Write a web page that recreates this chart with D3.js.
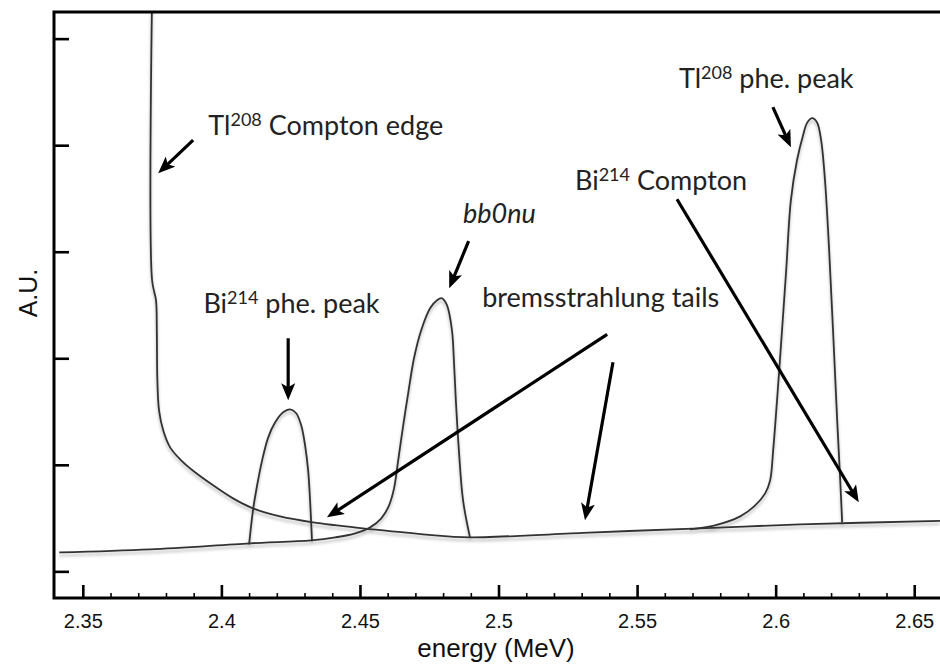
<!DOCTYPE html>
<html><head><meta charset="utf-8">
<script src="https://cdn.jsdelivr.net/npm/d3@7"></script>
<style>html,body{margin:0;padding:0;background:#fff;} svg{display:block}</style>
</head><body>
<svg id="chart" width="940" height="671"></svg>
<script>
// ---------- data (energy in MeV, arbitrary units) ----------
const xDomain = [2.3396, 2.6593];
const yDomain = [-0.25, 5.25];
const xMajor = [2.35, 2.40, 2.45, 2.50, 2.55, 2.60, 2.65];
const xTickLabels = ["2.35", "2.4", "2.45", "2.5", "2.55", "2.6", "2.65"];
const xMinor = [2.36,2.37,2.38,2.39,2.41,2.42,2.43,2.44,2.46,2.47,2.48,2.49,2.51,2.52,2.53,2.54,2.56,2.57,2.58,2.59,2.61,2.62,2.63,2.64];
const yTicks = [0, 1, 2, 3, 4, 5];

// Tl208 Compton continuum
const comptonE = [2.3750, 2.3750, 2.3764, 2.3767, 2.3769, 2.3775, 2.3790, 2.3815, 2.3851, 2.3905, 2.3970, 2.4042, 2.4114, 2.4212, 2.4331, 2.4511, 2.4771];
const comptonV = [5.40, 2.73, 2.545, 2.26, 1.793, 1.512, 1.324, 1.164, 1.052, 0.930, 0.808, 0.685, 0.592, 0.516, 0.460, 0.404, 0.338];
// continuum tail to the right
const tailE = [2.4771, 2.4897, 2.5305, 2.5727, 2.6088, 2.6593];
const tailV = [0.338, 0.319, 0.362, 0.404, 0.441, 0.474];
// bremsstrahlung baseline + bb0nu peak
const bbE = [2.3415, 2.3743, 2.4104, 2.4324, 2.4411, 2.4483, 2.4537, 2.4577, 2.4605, 2.4623, 2.4637, 2.4655, 2.4674, 2.4695, 2.4721, 2.4753, 2.4778, 2.4796, 2.4814, 2.4832, 2.4839, 2.4846, 2.4857, 2.4872, 2.4897];
const bbV = [0.178, 0.207, 0.263, 0.291, 0.319, 0.357, 0.413, 0.498, 0.620, 0.779, 1.023, 1.352, 1.671, 2.000, 2.263, 2.469, 2.545, 2.563, 2.498, 2.263, 1.981, 1.606, 1.136, 0.667, 0.319];
// Bi214 photo-peak
const biE = [2.4100, 2.4114, 2.4129, 2.4147, 2.4169, 2.4194, 2.4223, 2.4248, 2.4270, 2.4288, 2.4302, 2.4313, 2.4320, 2.4327];
const biV = [0.254, 0.573, 0.808, 1.042, 1.258, 1.399, 1.493, 1.521, 1.484, 1.371, 1.183, 0.948, 0.667, 0.282];
// Tl208 photo-peak
const tlE = [2.5691, 2.5781, 2.5872, 2.5926, 2.5962, 2.5980, 2.5991, 2.6005, 2.6023, 2.6038, 2.6055, 2.6077, 2.6099, 2.6113, 2.6131, 2.6149, 2.6164, 2.6178, 2.6193, 2.6207, 2.6222, 2.6233, 2.6240];
const tlV = [0.394, 0.432, 0.516, 0.620, 0.732, 0.854, 1.136, 1.606, 2.263, 2.826, 3.484, 3.859, 4.094, 4.207, 4.254, 4.216, 4.047, 3.671, 3.014, 2.263, 1.418, 0.854, 0.460];

// annotations
const noteText = ["Tl^208^ Compton edge", "Bi^214^ phe. peak", "bb0nu", "bremsstrahlung tails", "Bi^214^ Compton", "Tl^208^ phe. peak"];
const noteE = [2.3953, 2.3935, 2.4872, 2.4941, 2.5276, 2.5651];
const noteV = [4.094, 2.423, 3.268, 2.479, 3.577, 4.535];
const noteItalic = [false, false, true, false, false, false];

const arrowFromE = [2.3898, 2.4241, 2.4892, 2.5990, 2.5392, 2.5413, 2.5644];
const arrowFromV = [4.047, 2.188, 3.099, 4.357, 2.225, 1.962, 3.493];
const arrowToE   = [2.3772, 2.4241, 2.4822, 2.6055, 2.4381, 2.5312, 2.6300];
const arrowToV   = [3.737, 1.606, 2.657, 3.981, 0.507, 0.479, 0.648];

// ---------- chart ----------
const svg = d3.select("#chart");
const L = 54, R = 940, T = 12, B = 598;
const x = d3.scaleLinear().domain(xDomain).range([L, R]);
const y = d3.scaleLinear().domain(yDomain).range([B, T]);

const defs = svg.append("defs");
defs.append("clipPath").attr("id", "plot").append("rect")
  .attr("x", L).attr("y", T).attr("width", R - L).attr("height", B - T);
const f = defs.append("filter").attr("id", "sh").attr("x", "-20%").attr("y", "-20%").attr("width", "140%").attr("height", "140%");
f.append("feDropShadow").attr("dx", 0).attr("dy", 3).attr("stdDeviation", 1.6)
  .attr("flood-color", "#000").attr("flood-opacity", 0.28);
defs.append("marker").attr("id", "arr").attr("markerUnits", "userSpaceOnUse")
  .attr("viewBox", "0 0 17 14").attr("refX", 7).attr("refY", 7)
  .attr("markerWidth", 17).attr("markerHeight", 14).attr("orient", "auto")
  .append("path").attr("d", "M0,0 L17,7 L0,14 L4,7 Z").attr("fill", "#000");

// curves
const line = d3.line().x(d => x(d[0])).y(d => y(d[1])).curve(d3.curveCatmullRom.alpha(0.5));
const series = [
  d3.zip(bbE, bbV), d3.zip(biE, biV), d3.zip(tailE, tailV), d3.zip(tlE, tlV), d3.zip(comptonE, comptonV)
];
const gc = svg.append("g").attr("clip-path", "url(#plot)");
gc.append("g").attr("filter", "url(#sh)").selectAll("path").data(series).join("path")
  .attr("d", line).attr("fill", "none").attr("stroke", "#333").attr("stroke-width", 1.8)
  .attr("stroke-linejoin", "round");

// axes
const gx = svg.append("g").attr("transform", `translate(0,${B})`)
  .call(d3.axisBottom(x).tickValues(xMajor).tickFormat((d, i) => xTickLabels[i]).tickSize(-13).tickSizeOuter(0).tickPadding(16));
gx.select(".domain").remove();
gx.selectAll("line").attr("stroke", "#000").attr("stroke-width", 2.6);
gx.selectAll("text").attr("font-family", "'Liberation Sans', Arial, sans-serif").attr("font-size", 20).attr("fill", "#111");
const gm = svg.append("g").attr("transform", `translate(0,${B})`)
  .call(d3.axisBottom(x).tickValues(xMinor).tickFormat("").tickSize(-5).tickSizeOuter(0));
gm.select(".domain").remove();
gm.selectAll("line").attr("stroke", "#000").attr("stroke-width", 1.6);
const gy = svg.append("g").attr("transform", `translate(${L},0)`)
  .call(d3.axisRight(y).tickValues(yTicks).tickFormat("").tickSize(15).tickSizeOuter(0));
gy.select(".domain").remove();
gy.selectAll("line").attr("stroke", "#000").attr("stroke-width", 2.6);
svg.append("path").attr("d", `M${R},${T}H${L}V${B}H${R}`).attr("fill", "none")
  .attr("stroke", "#000").attr("stroke-width", 3).attr("stroke-linecap", "square");

// axis titles
svg.append("text").attr("x", 496).attr("y", 657).attr("text-anchor", "middle")
  .attr("font-family", "'Liberation Sans', Arial, sans-serif").attr("font-size", 26).attr("fill", "#111")
  .text("energy (MeV)");
svg.append("text").attr("transform", "translate(37,293) rotate(-90)").attr("text-anchor", "middle")
  .attr("font-family", "'Liberation Sans', Arial, sans-serif").attr("font-size", 25).attr("fill", "#111")
  .text("A.U.");

// arrows
const arrows = d3.range(arrowFromE.length).map(i => {
  const x1 = x(arrowFromE[i]), y1 = y(arrowFromV[i]), x2 = x(arrowToE[i]), y2 = y(arrowToV[i]);
  const len = Math.hypot(x2 - x1, y2 - y1), k = (len - 10) / len;
  return [x1, y1, x1 + (x2 - x1) * k, y1 + (y2 - y1) * k];
});
svg.append("g").selectAll("line").data(arrows).join("line")
  .attr("x1", d => d[0]).attr("y1", d => d[1]).attr("x2", d => d[2]).attr("y2", d => d[3])
  .attr("stroke", "#000").attr("stroke-width", 3.2).attr("marker-end", "url(#arr)");

// notes
const gn = svg.append("g").attr("font-family", "Lato, 'Open Sans', sans-serif").attr("font-size", 27)
  .attr("font-weight", 400).attr("fill", "#222");
noteText.forEach((t, i) => {
  const tx = gn.append("text").attr("x", x(noteE[i])).attr("y", y(noteV[i]))
    .attr("font-style", noteItalic[i] ? "italic" : "normal");
  t.split("^").forEach((part, j) => {
    if (!part) return;
    const sup = j % 2 === 1;
    tx.append("tspan").attr("font-size", sup ? 18 : 27)
      .attr("dy", sup ? -9.5 : (j > 0 ? 9.5 : 0)).text(part);
  });
});
</script>
</body></html>
